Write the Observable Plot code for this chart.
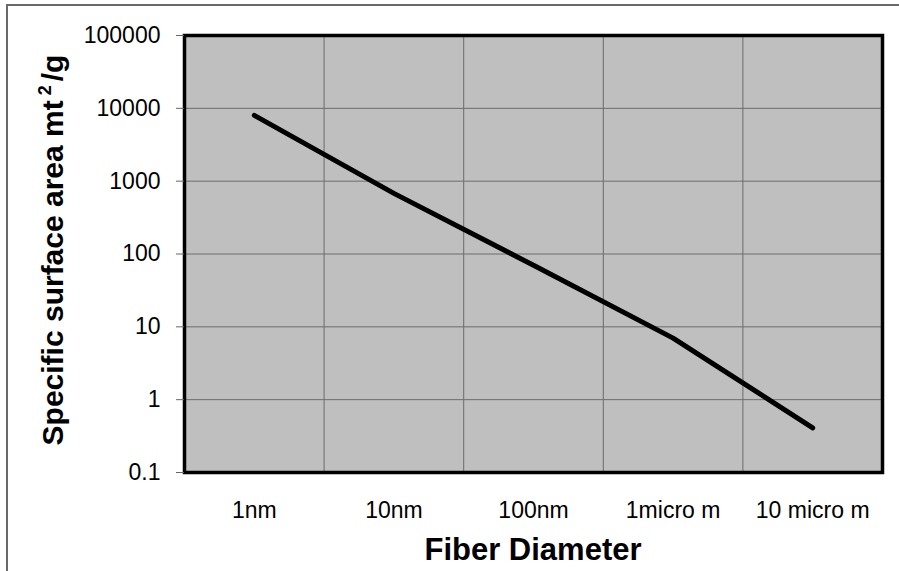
<!DOCTYPE html>
<html>
<head>
<meta charset="utf-8">
<script src="https://cdn.jsdelivr.net/npm/d3@7"></script>
<script src="https://cdn.jsdelivr.net/npm/@observablehq/plot@0.6"></script>
<style>
  html, body { margin: 0; padding: 0; background: #fff; }
  #wrap { position: relative; width: 899px; height: 571px; overflow: hidden; }
  #border { position: absolute; left: 6px; top: 4px; width: 1000px; height: 1000px;
            border-left: 2px solid #6a6a6a; border-top: 2px solid #6a6a6a; }
  #chart { position: absolute; left: 0; top: 0; }
</style>
</head>
<body>
<div id="wrap"><div id="border"></div><div id="chart"></div></div>
<script>
// Data
const categories = ["1nm", "10nm", "100nm", "1micro m", "10 micro m"];
const surfaceArea = [8000, 680, 70, 7, 0.41];
const yTicks = [0.1, 1, 10, 100, 1000, 10000, 100000];
const yTickLabels = ["0.1", "1", "10", "100", "1000", "10000", "100000"];
const xTitle = "Fiber Diameter";
const yTitle = "Specific surface area mt";

const data = categories.map((c, i) => ({i, c, v: surfaceArea[i]}));
const idx = categories.map((c, i) => i);
const bandEdges = idx.slice(1).map(i => i - 0.5);

const chart = Plot.plot({
  width: 899,
  height: 571,
  marginLeft: 184,
  marginRight: 17,
  marginTop: 35,
  marginBottom: 99,
  style: {background: "transparent", fontFamily: "'Liberation Sans', Arial, sans-serif", color: "#000"},
  x: {domain: [-0.5, categories.length - 0.5]},
  y: {type: "log", domain: [0.1, 100000]},
  marks: [
    Plot.frame({fill: "#bfbfbf", stroke: null}),
    Plot.ruleY(yTicks.slice(1, -1), {stroke: "#6c6c6c", strokeWidth: 1}),
    Plot.ruleX(bandEdges, {stroke: "#6c6c6c", strokeWidth: 1}),
    Plot.line(data, {x: "i", y: "v", stroke: "#000", strokeWidth: 5, strokeLinecap: "round", strokeLinejoin: "round"}),
    Plot.frame({stroke: "#000", strokeWidth: 3.5}),
    Plot.axisY(yTicks, {tickSize: 8, tickPadding: 16, fontSize: 23, stroke: "#666",
      tickFormat: d => yTickLabels[yTicks.indexOf(d)], label: null}),
    Plot.axisX(idx, {tickSize: 0, tickPadding: 29, fontSize: 23,
      tickFormat: i => categories[i], label: null})
  ]
});

document.getElementById("chart").appendChild(chart);

const svg = d3.select(chart);
svg.append("text")
  .attr("x", 533).attr("y", 560)
  .attr("text-anchor", "middle")
  .attr("font-family", "'Liberation Sans', Arial, sans-serif")
  .attr("font-weight", "bold").attr("font-size", 31)
  .attr("fill", "#000")
  .text(xTitle);

const yt = svg.append("text")
  .attr("transform", "translate(63,250) rotate(-90)")
  .attr("text-anchor", "middle")
  .attr("font-family", "'Liberation Sans', Arial, sans-serif")
  .attr("font-weight", "bold").attr("font-size", 30)
  .attr("fill", "#000");
yt.append("tspan").text(yTitle);
yt.append("tspan").attr("dx", 5).attr("dy", -12).attr("font-size", 18).text("2");
yt.append("tspan").attr("dx", 4).attr("dy", 12).text("/g");
</script>
</body>
</html>
